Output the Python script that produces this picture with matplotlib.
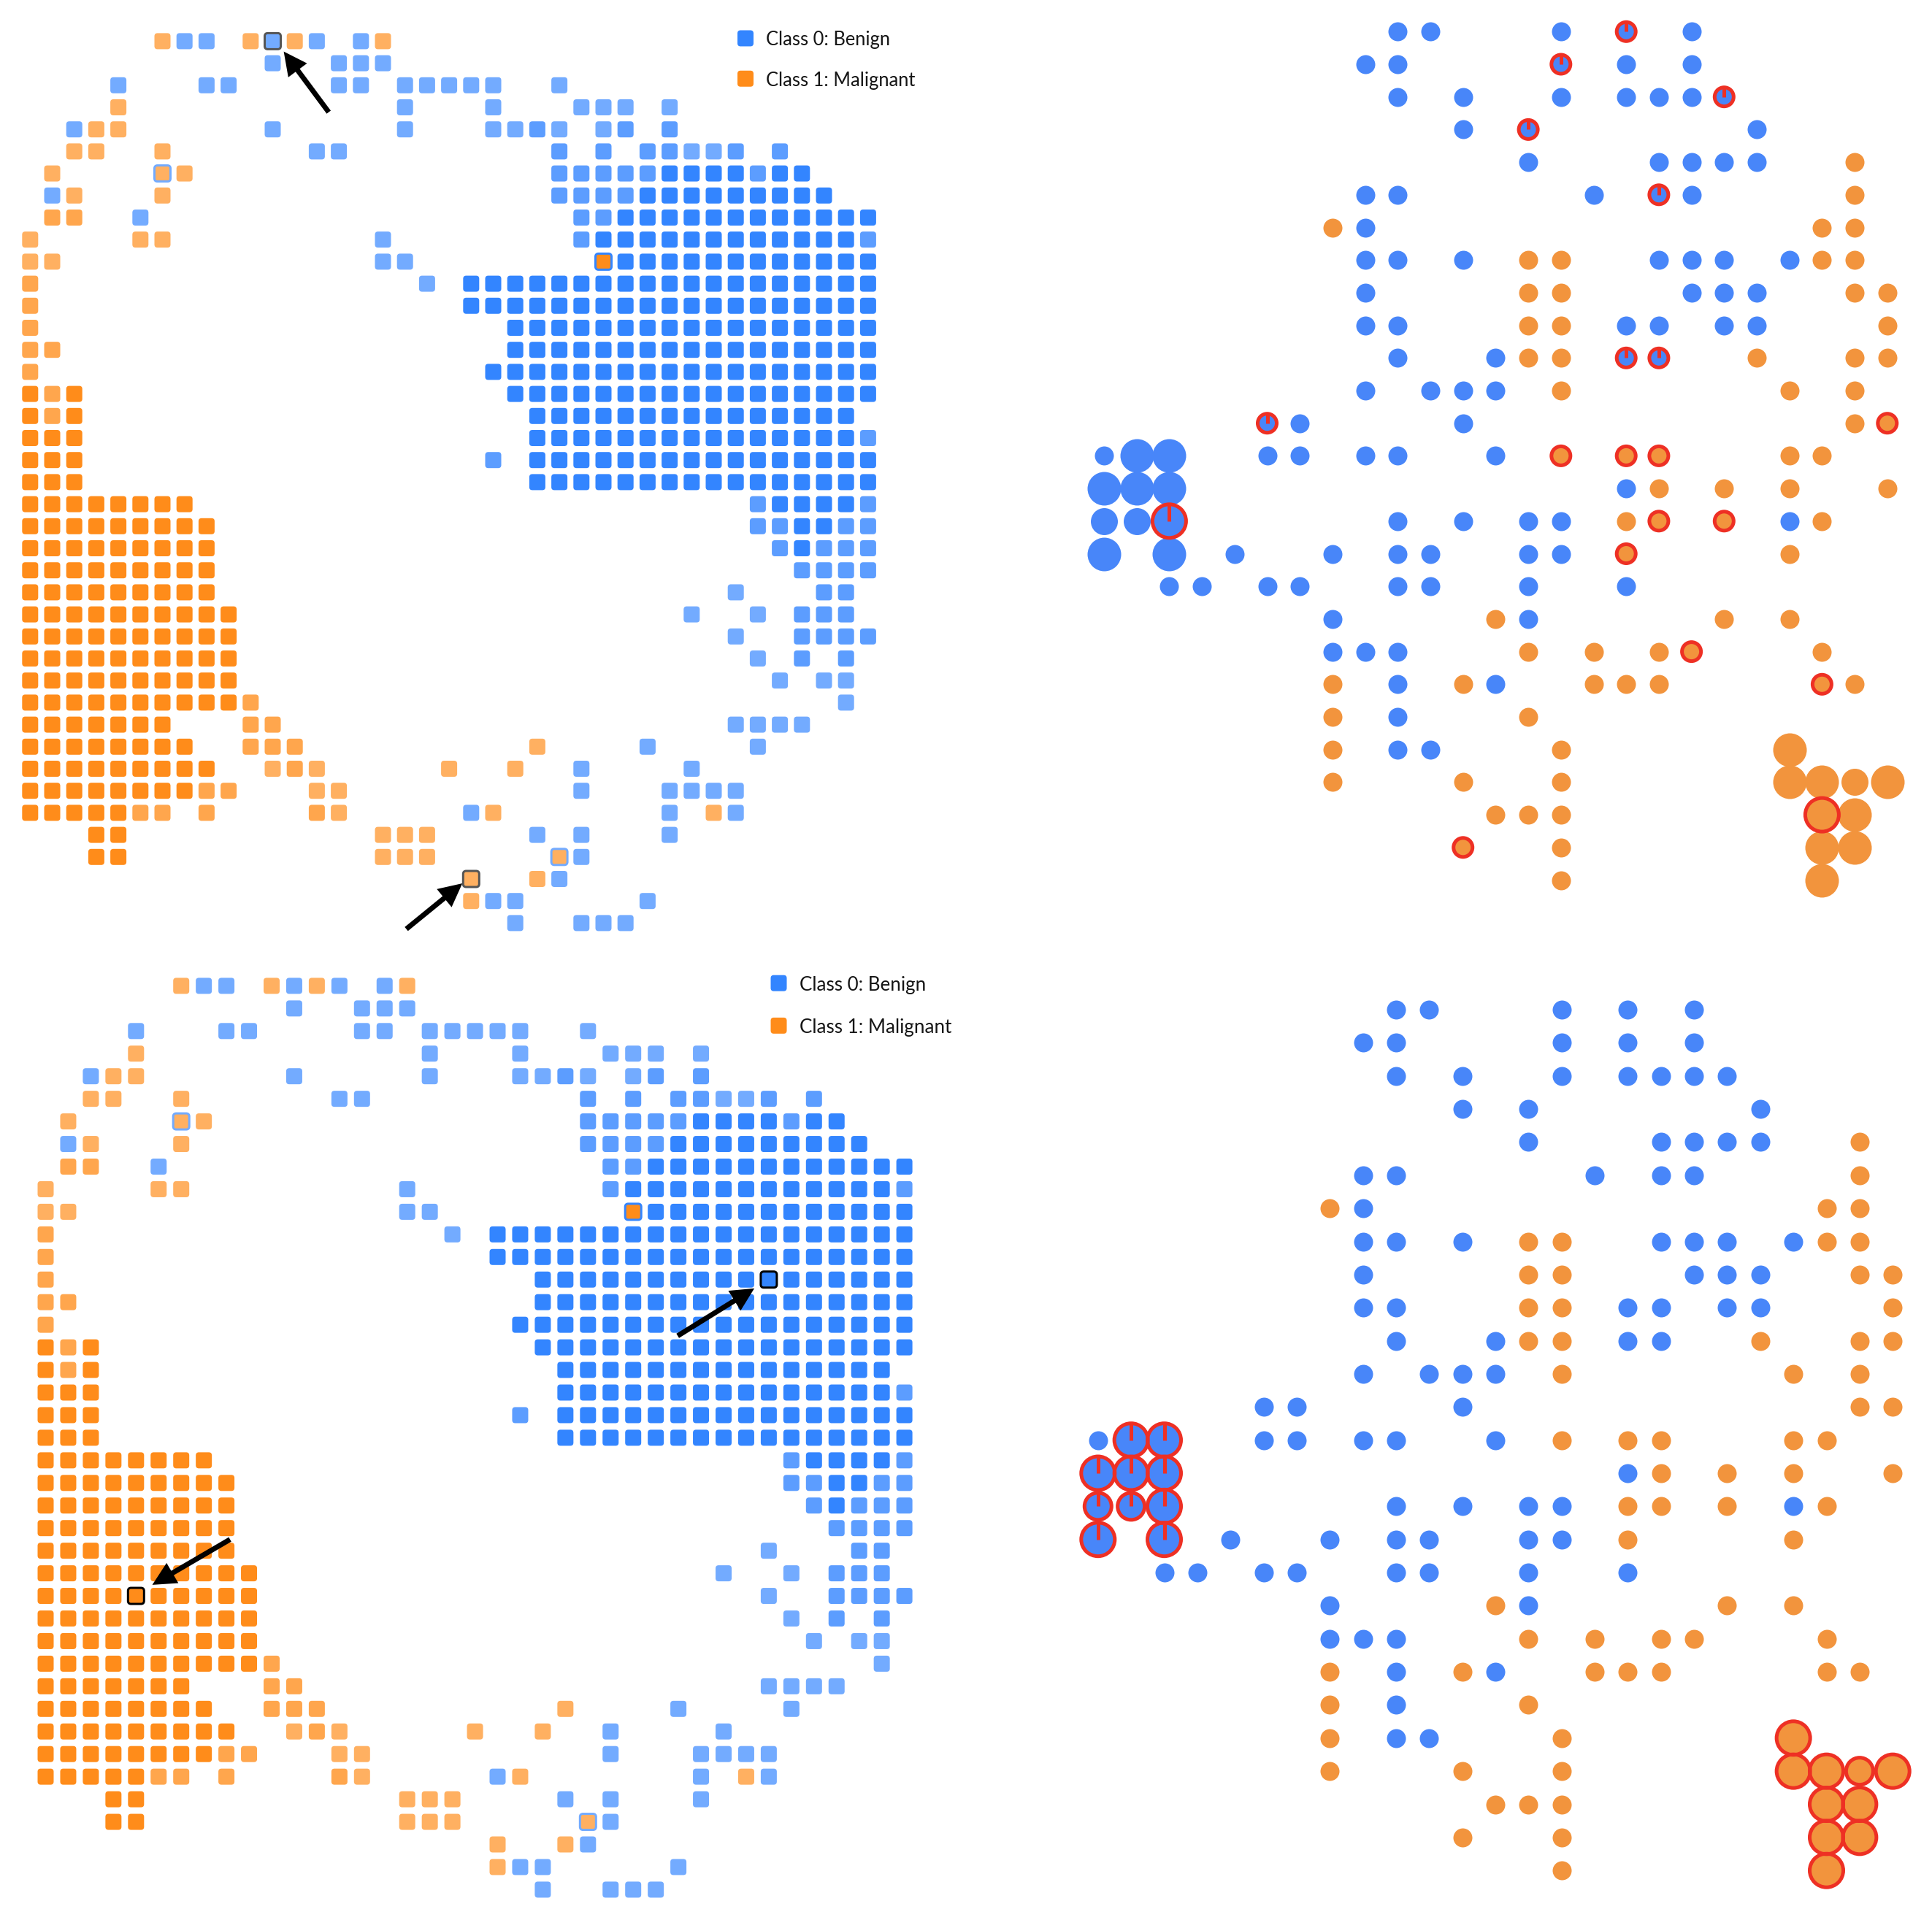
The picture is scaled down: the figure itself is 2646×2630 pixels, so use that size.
import re
import matplotlib
matplotlib.use('Agg')
import matplotlib.pyplot as plt
from matplotlib.collections import PatchCollection
from matplotlib.patches import FancyBboxPatch

# Self-organising map cells, one string per row: "col kind" or "from:to kind"
# kinds: B/m/b = blue dark to light, O/a/o = orange dark to light
som_rows = [
    "6o 7b 8b 10o 11b 12o 13b 15b 16o",
    "11b 14b 15b 16b",
    "4b 8b 9b 14b 15b 17:21b 24b",
    "4o 17b 21b 25:27b 29b",
    "2b 3o 4o 11b 17b 21b 22b 23m 24b 26b 27m 29m",
    "2o 3o 6o 13b 14b 24m 26m 28m 29m 30b 31b 32m 34m",
    "1o 6o 7o 24:28m 29:32B 33m 34B 35B",
    "1b 2o 6o 24:27m 28:36B",
    "1a 2a 5b 25m 26m 27:38B",
    "0o 5o 6o 16b 25m 26:37B 38m",
    "0o 1o 16b 17b 26O 27:38B",
    "0a 18b 20:38B",
    "0a 20:38B",
    "0a 22:38B",
    "0a 1a 22:38B",
    "0a 21:38B",
    "0O 1a 2O 22:38B",
    "0O 1a 2O 23:37B",
    "0:2O 23:37B 38m",
    "0:2O 21m 23:38B",
    "0:2O 23:38B",
    "0:7O 33m 34:37B 38m",
    "0:8O 33m 34m 35B 36B 37m 38m",
    "0:8O 34m 35B 36:38m",
    "0:8O 35:38m",
    "0:8O 32b 36m 37m",
    "0:9O 30b 33b 35:37m",
    "0:9O 32b 35:38m",
    "0:9O 33b 35m 37m",
    "0:9O 34b 36b 37b",
    "0:9O 10a 37b",
    "0:6O 10a 11a 32:35b",
    "0:7O 10:12a 23o 28b 33b",
    "0:8O 11o 12a 13o 19o 22o 25b 30b",
    "0:7O 8a 9a 13o 14o 25b 29:32b",
    "0:4O 5a 6a 8a 13a 14o 20b 21o 29b 31o 32b",
    "3O 4O 16:18o 23b 25b 29b",
    "3O 4O 16:18o 24o 25b",
    "20o 23o 24b",
    "20o 21b 22b 28b",
    "22b 25:27b",
]

# (row, col) of outlined cells
mislabeled_cells = [(6, 6), (10, 26), (37, 24)]
top_query_cells = [(0, 11), (38, 20)]
bottom_query_cells = [(13, 32), (27, 4)]

# arrows as (tail col, tail row, tip col, tip row)
top_arrows = [(13.54, 3.22, 11.50, 0.47), (17.06, 40.27, 19.60, 38.20)]
bottom_arrows = [(27.97, 15.49, 31.36, 13.39), (8.16, 24.50, 4.72, 26.51)]

# Prototype points, one string per row, b/o = class, M/L = medium/large point
point_rows = [
    "9b 10b 14b 16b 18b",
    "8b 9b 14b 16b 18b",
    "9b 11b 14b 16b 17b 18b 19b",
    "11b 13b 20b",
    "13b 17b 18b 19b 20b 23o",
    "8b 9b 15b 17b 18b 23o",
    "7o 8b 22o 23o",
    "8b 9b 11b 13o 14o 17b 18b 19b 21b 22o 23o",
    "8b 13o 14o 18b 19b 20b 23o 24o",
    "8b 9b 13o 14o 16b 17b 19b 20b 24o",
    "9b 12b 13o 14o 16b 17b 20o 23o 24o",
    "8b 10b 11b 12b 14o 21o 23o",
    "5b 6b 11b 23o 24o",
    "0b 1Lb 2Lb 5b 6b 8b 9b 12b 14o 16o 17o 21o 22o",
    "0Lb 1Lb 2Lb 16b 17o 19o 21o 24o",
    "0Mb 1Mb 2Lb 9b 11b 13b 14b 16o 17o 19o 21b 22o",
    "0Lb 2Lb 4b 7b 9b 10b 13b 14b 16o 21o",
    "2b 3b 5b 6b 9b 10b 13b 16b",
    "7b 12o 13b 19o 21o",
    "7b 8b 9b 13o 15o 17o 18o 22o",
    "7o 9b 11o 12b 15o 16o 17o 22o 23o",
    "7o 9b 13o",
    "7o 9b 10b 14o 21Lo",
    "7o 11o 14o 21Lo 22Lo 23Mo 24Lo",
    "12o 13o 14o 22Lo 23Lo",
    "11o 14o 22Lo 23Lo",
    "14o 22Lo",
]

# (row, col) of ringed points
top_rings = [(0, 16), (1, 14), (2, 19), (3, 13), (5, 17), (10, 16), (10, 17), (12, 5),
             (12, 24), (13, 14), (13, 16), (13, 17), (15, 2), (15, 17), (15, 19),
             (16, 16), (19, 18), (20, 22), (24, 22), (25, 11)]
bottom_rings = [(13, 1), (13, 2), (14, 0), (14, 1), (14, 2), (15, 0), (15, 1), (15, 2),
                (16, 0), (16, 2), (22, 21), (23, 21), (23, 22), (23, 23), (23, 24),
                (24, 22), (24, 23), (25, 22), (25, 23), (26, 22)]

legend_labels = ['Class 0: Benign', 'Class 1: Malignant']

cell_colors = {'B': '#3385FF', 'm': '#5C9DFF', 'b': '#73ABFF',
               'O': '#FF8C1A', 'a': '#FFA64D', 'o': '#FFB061'}
point_colors = {'b': '#4886F9', 'o': '#F2943D'}
ring_color = '#EE3024'
point_diam = {'': 26, 'M': 37, 'L': 46}  # pixels

W, H = 2646, 2630
PX = 72 / 100  # points per pixel at dpi 100


def parse_cells(rows):
    cells = {}
    for r, row in enumerate(rows):
        for tok in row.split():
            m = re.fullmatch(r'(\d+)(?::(\d+))?([BmbOao])', tok)
            start = int(m.group(1))
            end = int(m.group(2)) if m.group(2) else start
            for c in range(start, end + 1):
                cells[(r, c)] = m.group(3)
    return cells


def parse_points(rows):
    points = {}
    for r, row in enumerate(rows):
        for tok in row.split():
            m = re.fullmatch(r'(\d+)([ML]?)([bo])', tok)
            points[(r, int(m.group(1)))] = (m.group(3), m.group(2))
    return points


def make_axes(fig, x0, y0, pitch, xlim, ylim):
    # data (0, 0) lands on pixel (x0, y0), one data unit is one pitch
    left = x0 + xlim[0] * pitch
    top = y0 + ylim[0] * pitch
    width = (xlim[1] - xlim[0]) * pitch
    height = (ylim[1] - ylim[0]) * pitch
    ax = fig.add_axes([left / W, 1 - (top + height) / H, width / W, height / H])
    ax.set_xlim(xlim)
    ax.set_ylim(ylim[1], ylim[0])
    ax.axis('off')
    return ax


def cell_box(c, r, size):
    return FancyBboxPatch((c - size / 2, r - size / 2), size, size,
                          boxstyle='round,pad=0,rounding_size=%f' % (size * 0.19))


def draw_som(ax, cells, pitch, query_cells, query_color, arrows, legend_xy, legend_text_x, fontsize):
    size = 22 / pitch
    patches, colors, edges, widths = [], [], [], []
    for (r, c), kind in cells.items():
        patches.append(cell_box(c, r, size))
        colors.append(cell_colors[kind])
        if (r, c) in query_cells:
            edges.append(query_color)
            widths.append(3 * PX)
        elif (r, c) in mislabeled_cells:
            # outline is the colour of the blue neighbours
            edges.append(cell_colors['B'] if kind == 'O' else cell_colors['b'])
            widths.append(3 * PX)
        else:
            edges.append('none')
            widths.append(0)
    ax.add_collection(PatchCollection(patches, facecolors=colors, edgecolors=edges,
                                      linewidths=widths, zorder=2))

    for x1, y1, x2, y2 in arrows:
        ax.annotate('', xy=(x2, y2), xytext=(x1, y1), zorder=3,
                    arrowprops=dict(facecolor='black', edgecolor='black', linewidth=0, shrink=0,
                                    width=7 * PX, headwidth=32 * PX, headlength=32 * PX))

    # legend
    for (lx, ly), label, key in zip(legend_xy, legend_labels, ['B', 'O']):
        box = cell_box(lx, ly, size)
        box.set_facecolor(cell_colors[key])
        box.set_edgecolor('none')
        ax.add_patch(box)
        ax.text(legend_text_x, ly, label, fontsize=fontsize, family='Lato', color='#151515',
                va='center_baseline', ha='left', clip_on=False)


def draw_points(ax, points, pitch, rings):
    for kind in point_colors:
        for key, d in point_diam.items():
            sel = [(c, r) for (r, c), v in points.items() if v == (kind, key)]
            if sel:
                ax.scatter([p[0] for p in sel], [p[1] for p in sel], s=(d * PX) ** 2,
                           color=point_colors[kind], linewidths=0, zorder=2)
    for r, c in rings:
        kind, key = points[(r, c)]
        d = point_diam[key]
        ax.scatter([c], [r], s=(d * PX) ** 2, facecolors='none', edgecolors=ring_color,
                   linewidths=5 * PX, zorder=3)
        if kind == 'b':
            # blue rings get a tick from the top to the centre
            ax.plot([c, c], [r, r - d / 2 / pitch], color=ring_color, lw=5 * PX,
                    solid_capstyle='butt', zorder=3)


cells = parse_cells(som_rows)
points = parse_points(point_rows)

fig = plt.figure(figsize=(W / 100, H / 100), dpi=100, facecolor='white')

ax_tl = make_axes(fig, 41.3, 56.4, 30.2, (-1, 41), (-1.5, 42))
draw_som(ax_tl, cells, 30.2, top_query_cells, '#555555', top_arrows,
         [(32.44, -0.13), (32.44, 1.70)], 33.37, 18.4)

ax_bl = make_axes(fig, 62.5, 1350.4, 30.95, (-1, 41), (-1.5, 42))
draw_som(ax_bl, cells, 30.95, bottom_query_cells, '#000000', bottom_arrows,
         [(32.44, -0.12), (32.44, 1.76)], 33.37, 18.7)

ax_tr = make_axes(fig, 1512, 43.3, 44.7, (-1, 25), (-0.9, 27))
draw_points(ax_tr, points, 44.7, top_rings)

ax_br = make_axes(fig, 1503.8, 1383.1, 45.35, (-0.9, 25), (-0.9, 27))
draw_points(ax_br, points, 45.35, bottom_rings)

fig.savefig('out.png', dpi=100)
